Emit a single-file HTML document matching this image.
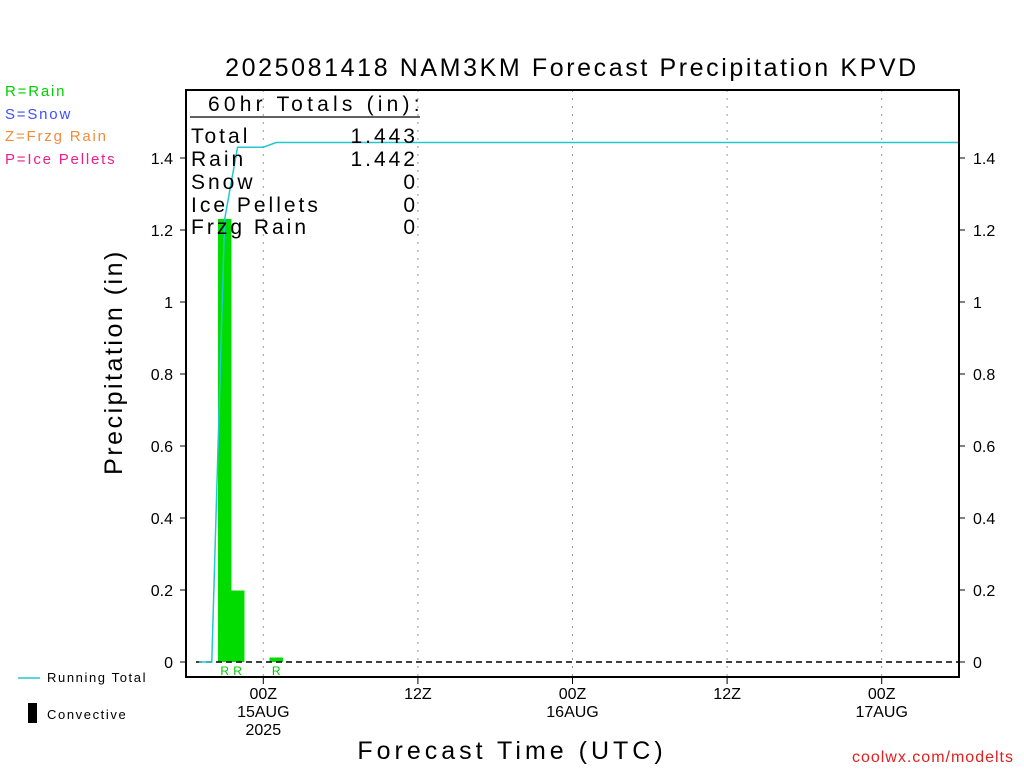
<!DOCTYPE html>
<html><head><meta charset="utf-8"><style>
body{margin:0;background:#fff;width:1024px;height:768px;overflow:hidden}
svg{font-family:"Liberation Sans","DejaVu Sans",sans-serif}
</style></head><body>
<svg id="chart" width="1024" height="768" viewBox="0 0 1024 768">
<text x="572" y="76" font-size="25" text-anchor="middle" letter-spacing="2.6">2025081418 NAM3KM Forecast Precipitation KPVD</text>
<g font-size="15" letter-spacing="1.8">
<text x="5" y="96" fill="#00d000">R=Rain</text>
<text x="5" y="119" fill="#3c50ff">S=Snow</text>
<text x="5" y="141" fill="#f08c3c">Z=Frzg Rain</text>
<text x="5" y="164" fill="#f01e8c">P=Ice Pellets</text>
</g>
<g id="grid"></g>
<g id="bars" shape-rendering="crispEdges"></g>
<line x1="196" y1="662" x2="959" y2="662" stroke="#000" stroke-width="1.5" stroke-dasharray="6,4"/>
<polyline id="total-line" fill="none" stroke="#20c8d0" stroke-width="1.5"/>
<rect x="186" y="90" width="773" height="587" fill="none" stroke="#000" stroke-width="2"/>
<g id="yticks" font-size="16"></g>
<g id="xticks" font-size="16" text-anchor="middle"></g>
<text transform="translate(122,362) rotate(-90)" font-size="25" text-anchor="middle" letter-spacing="2.5">Precipitation (in)</text>
<text x="512" y="759" font-size="25" text-anchor="middle" letter-spacing="4">Forecast Time (UTC)</text>
<text x="1014" y="762" font-size="16" text-anchor="end" fill="#e02020" letter-spacing="1">coolwx.com/modelts</text>
<g font-size="21" letter-spacing="3">
<text x="208" y="111" letter-spacing="4.2">60hr Totals (in):</text>
<line x1="190" y1="117" x2="420" y2="117" stroke="#000" stroke-width="1.2"/>
<text x="191" y="143">Total</text><text x="418" y="143" text-anchor="end">1.443</text>
<text x="191" y="166">Rain</text><text x="418" y="166" text-anchor="end">1.442</text>
<text x="191" y="189">Snow</text><text x="418" y="189" text-anchor="end">0</text>
<text x="191" y="212">Ice Pellets</text><text x="418" y="212" text-anchor="end">0</text>
<text x="191" y="234">Frzg Rain</text><text x="418" y="234" text-anchor="end">0</text>
</g>
<g font-size="13" letter-spacing="1.6">
<line x1="18" y1="678" x2="40" y2="678" stroke="#20c8d0" stroke-width="1.5"/>
<text x="47" y="682">Running Total</text>
<rect x="28" y="703" width="9" height="20" fill="#000"/>
<text x="47" y="719">Convective</text>
</g>
</svg>
<script>
const barHours=[3,4,7];
const barValues=[1.23,0.198,0.013];
const barTypes=["R","R","R"];
const totalHours=[1,2,3,4,5,6,7,60];
const totalValues=[0,0,1.23,1.43,1.43,1.43,1.443,1.443];
const yTickValues=[0,0.2,0.4,0.6,0.8,1,1.2,1.4];
const yTickLabels=["0","0.2","0.4","0.6","0.8","1","1.2","1.4"];
const xTickHours=[6,18,30,42,54];
const xTickLabels=[["00Z","15AUG","2025"],["12Z"],["00Z","16AUG"],["12Z"],["00Z","17AUG"]];
const NS="http://www.w3.org/2000/svg";
const X0=186,HW=773/60,Y0=662,YS=360;
const xs=h=>X0+h*HW, ys=v=>Y0-v*YS;
function mk(t,a,p){const e=document.createElementNS(NS,t);for(const k in a)e.setAttribute(k,a[k]);p.appendChild(e);return e;}
const grid=document.getElementById('grid'),bars=document.getElementById('bars'),yt=document.getElementById('yticks'),xt=document.getElementById('xticks');
xTickHours.forEach((h,i)=>{
 const l=mk('line',{x1:xs(h),y1:90,x2:xs(h),y2:677,stroke:'#999','stroke-dasharray':'2,6'},grid);
 
 
 const t=mk('line',{x1:xs(h),y1:677,x2:xs(h),y2:684,stroke:'#000'},xt);
 
 
 xTickLabels[i].forEach((s,j)=>{const tx=mk('text',{x:xs(h),y:699+j*18},xt);tx.textContent=s;
 
 });
});
yTickValues.forEach((v,i)=>{
 [[186,180,173,'end'],[959,965,973,'start']].forEach(([a,b,tx0,anc])=>{
  const t=mk('line',{x1:a,y1:ys(v),x2:b,y2:ys(v),stroke:'#000'},yt);
  
  
  const tx=mk('text',{x:tx0,y:ys(v)+6,'text-anchor':anc},yt);tx.textContent=yTickLabels[i];
  
  
 });
});
barHours.forEach((h,i)=>{
 const r=mk('rect',{x:xs(h-0.5),y:ys(barValues[i]),width:HW+0.5,height:barValues[i]*YS,fill:'#00dc00'},bars);
 
 
 const t=mk('text',{x:xs(h),y:675,'text-anchor':'middle','font-size':12,fill:'#00c800'},bars);t.textContent=barTypes[i];
 
 
});
document.getElementById('total-line').setAttribute('points',totalHours.map((h,i)=>xs(h)+','+ys(totalValues[i])).join(' '));
</script>
</body></html>
